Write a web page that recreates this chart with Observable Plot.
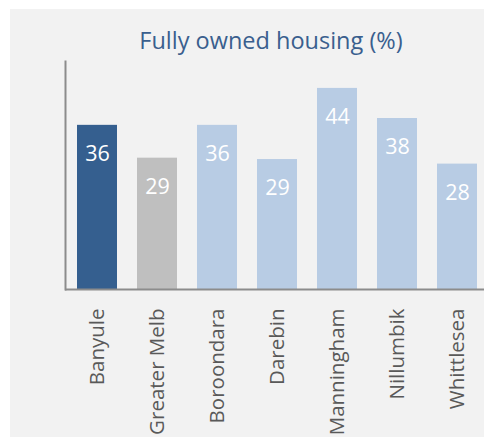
<!DOCTYPE html>
<html>
<head>
<meta charset="utf-8">
<script src="https://cdn.jsdelivr.net/npm/d3@7"></script>
<script src="https://cdn.jsdelivr.net/npm/@observablehq/plot@0.6"></script>
<style>
  html, body { margin: 0; padding: 0; background: #ffffff; width: 484px; height: 438px; overflow: hidden; }
  #panel { position: absolute; left: 10px; top: 9px; width: 474px; height: 428px; background: #f2f2f2; }
  #title { position: absolute; left: 0; width: 542px; top: 24px; text-align: center;
           font-family: "Open Sans", sans-serif; font-size: 23.5px; color: #3a5f8e; white-space: nowrap; }
  #chart { position: absolute; left: 0; top: 0; }
</style>
</head>
<body>
<div id="panel"></div>
<div id="title">Fully owned housing (%)</div>
<div id="chart"></div>
<script>
const categories = ["Banyule", "Greater Melb", "Boroondara", "Darebin", "Manningham", "Nillumbik", "Whittlesea"];
const values = [36, 28.8, 36, 28.5, 44.1, 37.5, 27.5];
const labels = ["36", "29", "36", "29", "44", "38", "28"];
const colors = ["#355f8f", "#bfbfbf", "#b8cce4", "#b8cce4", "#b8cce4", "#b8cce4", "#b8cce4"];

const data = categories.map((c, i) => ({category: c, value: values[i], label: labels[i], color: colors[i]}));

const chart = Plot.plot({
  width: 484,
  height: 438,
  marginLeft: 65,
  marginRight: 0,
  marginTop: 61,
  marginBottom: 149,
  style: {background: "transparent", fontFamily: "Open Sans, sans-serif"},
  x: {domain: categories, range: [65, 490], paddingInner: 0.33, paddingOuter: 0.165, label: null},
  y: {domain: [0, 50], axis: null},
  marks: [
    Plot.barY(data, {x: "category", y: "value", fill: "color"}),
    Plot.text(data, {x: "category", y: "value", text: "label", dy: 29, fill: "white", fontSize: 21.5}),
    Plot.ruleY([0], {stroke: "#8c8c8c", strokeWidth: 2}),
    Plot.frame({anchor: "left", stroke: "#8c8c8c", strokeWidth: 2}),
    Plot.axisX({tickRotate: -90, tickSize: 0, tickPadding: 19, fontSize: 20.5, fill: "#595959", label: null})
  ]
});
document.getElementById("chart").appendChild(chart);
</script>
</body>
</html>
